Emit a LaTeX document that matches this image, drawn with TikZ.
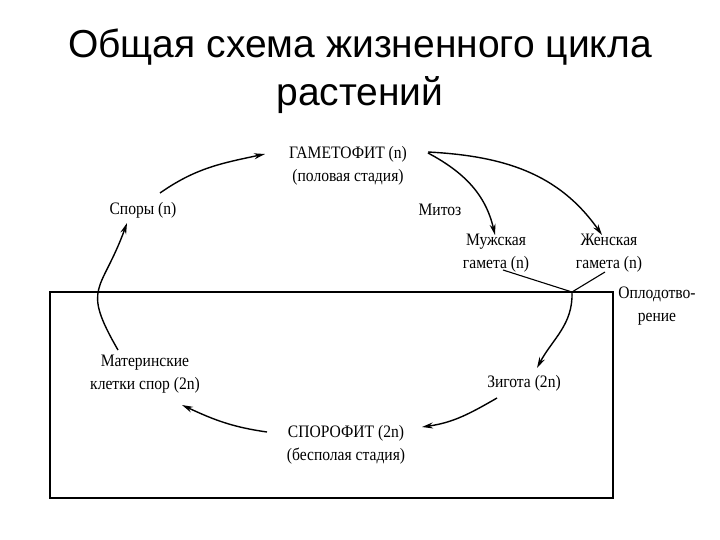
\documentclass[tikz,border=0pt]{standalone}
\usepackage{fontspec}
\setmainfont[FakeStretch=0.89]{Liberation Serif}
\newfontfamily\titlefont{Liberation Sans}
\usetikzlibrary{arrows.meta, positioning}

\begin{document}
\begin{tikzpicture}[x=1pt, y=-1pt]
    \tikzstyle{stage}=[align=center, inner sep=1pt, font=\fontsize{17.5}{23}\selectfont]
    \tikzstyle{cycle}=[line width=1.4pt, -{Stealth[length=11pt, width=6pt]}]
    \tikzstyle{joinline}=[line width=1.1pt]

    \useasboundingbox (0,0) rectangle (720,540);

    % title
    \node[align=center, font=\titlefont\fontsize{39}{48}\selectfont] (title) at (360,71) {Общая схема жизненного цикла\\растений};

    % frame of the diploid part
    \draw[line width=1.3pt] (50,292) rectangle (613,498);

    % stages of the cycle
    \node[stage] (gamet) at (348,166) {ГАМЕТОФИТ (n)\\(половая стадия)};
    \node[stage] (spores) at (143,210) {Споры (n)};
    \node[stage] (mitoz) at (440,210) {Митоз};
    \node[stage] (male) at (496,253) {Мужская\\гамета (n)};
    \node[stage] (female) at (609,253) {Женская\\гамета (n)};
    \node[stage] (fert) at (657,306) {Оплодотво-\\рение};
    \node[stage] (mother) at (145,374) {Материнские\\клетки спор (2n)};
    \node[stage] (zygote) at (524,383) {Зигота (2n)};
    \node[stage] (sporo) at (346,445) {СПОРОФИТ (2n)\\(бесполая стадия)};

    \coordinate (meet) at (572,292);

    % arrows
    \draw[cycle] ([shift={(17,-17)}]spores.center) to[out=35, in=192] ([shift={(-83,-12)}]gamet.center);
    \draw[cycle] ([shift={(-27,-24)}]mother.center) to[out=120, in=250, looseness=1.5] ([shift={(-16,13)}]spores.center);
    \draw[cycle] ([shift={(80,-13)}]gamet.center) to[out=-28, in=103] ([shift={(-1,-18)}]male.center);
    \draw[cycle] ([shift={(80,-14)}]gamet.center) to[out=-3, in=125] ([shift={(-7,-18)}]female.center);
    \draw[joinline] ([shift={(7,17)}]male.center) -- (meet);
    \draw[joinline] ([shift={(-4,19)}]female.center) -- (meet);
    \draw[cycle] (meet) to[out=-88, in=62] ([shift={(13,-15)}]zygote.center);
    \draw[cycle] ([shift={(-27,15)}]zygote.center) to[out=210, in=8] ([shift={(76,-18)}]sporo.center);
    \draw[cycle] ([shift={(-79,-13)}]sporo.center) to[out=172, in=-25] ([shift={(37,31)}]mother.center);
\end{tikzpicture}
\end{document}
